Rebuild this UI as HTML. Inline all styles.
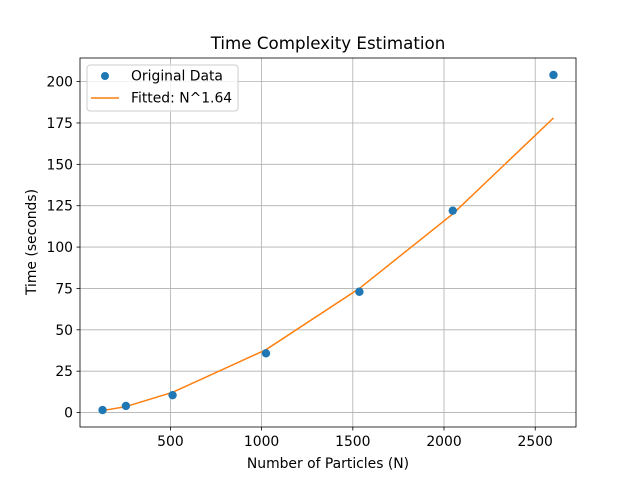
<!DOCTYPE html>
<html><head><meta charset="utf-8"><style>
body{margin:0;background:#fff;}
svg text{font-family:"DejaVu Sans","Liberation Sans",sans-serif;}
</style></head><body>
<svg id="chart" width="640" height="480" xmlns="http://www.w3.org/2000/svg">
<rect width="640" height="480" fill="#fff"/>
<text x="328" y="49" text-anchor="middle" font-size="16.7">Time Complexity Estimation</text>
<g id="grid"></g>
<g id="ticks"></g>
<g id="series"></g>
<rect x="80" y="58" width="496" height="369" fill="none" stroke="#000" stroke-width="0.8"/>
<text x="328" y="468" text-anchor="middle" font-size="13.9">Number of Particles (N)</text>
<text transform="translate(36,242) rotate(-90)" text-anchor="middle" font-size="13.9">Time (seconds)</text>
<g>
<rect x="87" y="65" width="151" height="46" rx="3" fill="#fff" fill-opacity="0.8" stroke="#ccc" stroke-width="1"/>
<circle cx="105" cy="76" r="4" fill="#1f77b4"/>
<text x="131" y="80.5" font-size="13.9">Original Data</text>
<line x1="91" y1="98" x2="119" y2="98" stroke="#ff7f0e" stroke-width="1.5"/>
<text x="131" y="102.5" font-size="13.9">Fitted: N^1.64</text>
</g>
</svg>
<script>
const nValues=[128,256,512,1024,1536,2048,2600];
const timeValues=[1.5,4,10.5,35.8,73,122,204];
const fitValues=[1.2,3.6,12.2,38,75,120,178];
const xTicks=[500,1000,1500,2000,2500];
const yTicks=[0,25,50,75,100,125,150,175,200];
const NS="http://www.w3.org/2000/svg";
const xMin=4.4,xMax=2723.6,yMin=-9.1,yMax=213.9;
const X=v=>80+(v-xMin)/(xMax-xMin)*496;
const Y=v=>427.6-(v-yMin)/(yMax-yMin)*369;
function mk(t,a,p){const e=document.createElementNS(NS,t);for(const k in a)e.setAttribute(k,a[k]);p.appendChild(e);return e;}
const grid=document.getElementById('grid'),ticks=document.getElementById('ticks'),series=document.getElementById('series');
xTicks.forEach(v=>{const x=X(v);
const g=mk('line',{x1:x,x2:x,y1:58,y2:427,stroke:'#b0b0b0','stroke-width':0.8},grid);


mk('line',{x1:x,x2:x,y1:427,y2:430.5,stroke:'#000','stroke-width':0.8},ticks);
const t=mk('text',{x:x,y:446,'text-anchor':'middle','font-size':13.9},ticks);t.textContent=v;

});
yTicks.forEach(v=>{const y=Y(v);
const g=mk('line',{x1:80,x2:576,y1:y,y2:y,stroke:'#b0b0b0','stroke-width':0.8},grid);


mk('line',{x1:76.5,x2:80,y1:y,y2:y,stroke:'#000','stroke-width':0.8},ticks);
const t=mk('text',{x:73,y:y+5,'text-anchor':'end','font-size':13.9},ticks);t.textContent=v;

});
const pts=nValues.map((n,i)=>X(n)+','+Y(fitValues[i])).join(' ');
const pl=mk('polyline',{points:pts,fill:'none',stroke:'#ff7f0e','stroke-width':1.5},series);


nValues.forEach((n,i)=>{const c=mk('circle',{cx:X(n),cy:Y(timeValues[i]),r:4.2,fill:'#1f77b4'},series);

});
</script>
</body></html>
